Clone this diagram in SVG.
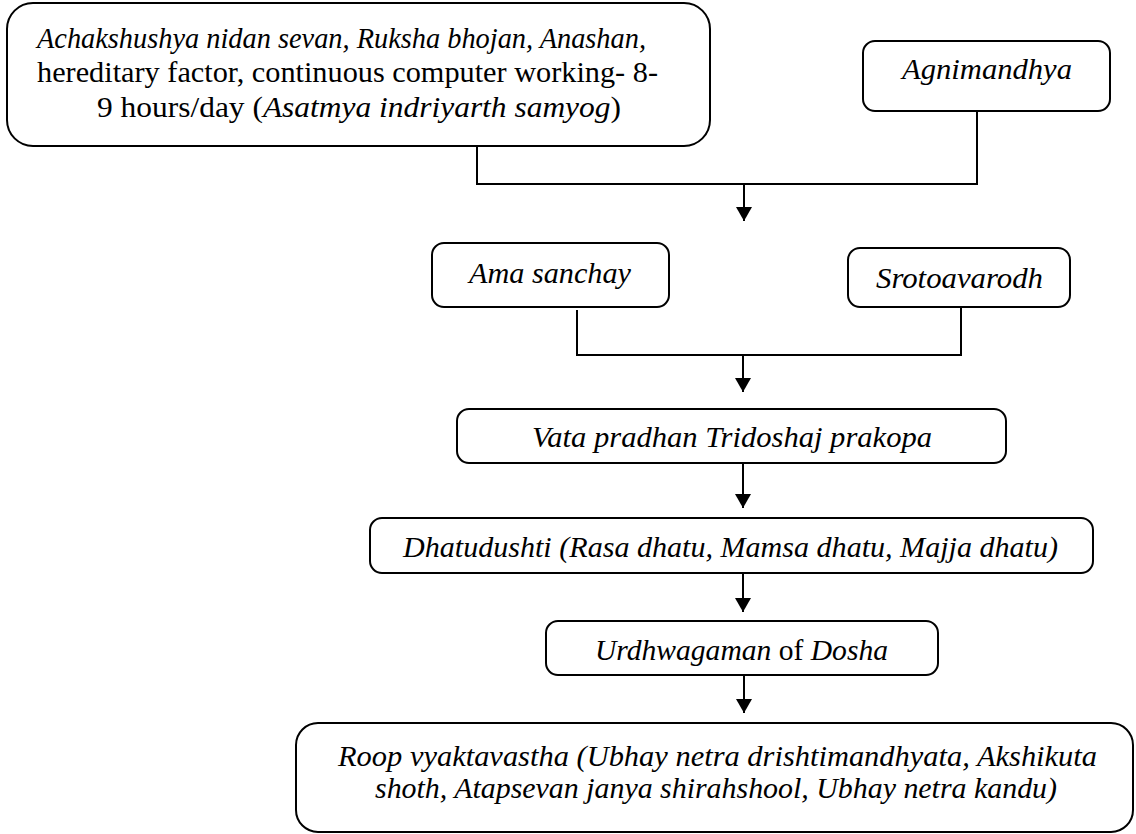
<svg xmlns="http://www.w3.org/2000/svg" width="1136" height="834" viewBox="0 0 1136 834">
<style>
  .box { fill: #ffffff; stroke: #000000; stroke-width: 2; }
  .t { font-family: "Liberation Serif", "DejaVu Serif", serif; font-size: 29px; fill: #000000; }
  .i { font-style: italic; }
  .n { font-style: normal; }
  .con { fill: none; stroke: #000000; stroke-width: 2; }
</style>
<defs>
  <marker id="arr" markerUnits="userSpaceOnUse" viewBox="0 0 14 16" markerWidth="14" markerHeight="16" refX="14" refY="8" orient="auto">
    <path d="M0,0 L14,8 L0,16 z" fill="#000000"/>
  </marker>
</defs>
<rect width="1136" height="834" fill="#ffffff"/>

<g id="connectors">
  <path class="con" d="M477,147 V184 H977 V111"/>
  <path class="con" d="M744,184 V221" marker-end="url(#arr)"/>
  <path class="con" d="M577,310 V355 H961 V307"/>
  <path class="con" d="M743,355 V392" marker-end="url(#arr)"/>
  <path class="con" d="M743,464 V508" marker-end="url(#arr)"/>
  <path class="con" d="M743,574 V612" marker-end="url(#arr)"/>
  <path class="con" d="M744,675 V713" marker-end="url(#arr)"/>
</g>

<g id="node-causes">
  <rect class="box" x="7" y="3" width="703" height="143" rx="26"/>
  <text class="t i" x="37" y="48" textLength="609" lengthAdjust="spacingAndGlyphs">Achakshushya nidan sevan, Ruksha bhojan, Anashan,</text>
  <text class="t" x="37" y="82" textLength="621" lengthAdjust="spacingAndGlyphs">hereditary factor, continuous computer working- 8-</text>
  <text class="t" x="97" y="117" textLength="524" lengthAdjust="spacingAndGlyphs">9 hours/day (<tspan class="i">Asatmya indriyarth samyog</tspan>)</text>
</g>

<g id="node-agnimandhya">
  <rect class="box" x="863" y="41" width="247" height="70" rx="12"/>
  <text class="t i" x="902" y="79" textLength="170" lengthAdjust="spacingAndGlyphs">Agnimandhya</text>
</g>

<g id="node-ama">
  <rect class="box" x="432" y="243" width="237" height="64" rx="12"/>
  <text class="t i" x="469" y="283" textLength="162" lengthAdjust="spacingAndGlyphs">Ama sanchay</text>
</g>

<g id="node-sroto">
  <rect class="box" x="848" y="248" width="222" height="59" rx="12"/>
  <text class="t i" x="876" y="288" textLength="167" lengthAdjust="spacingAndGlyphs">Srotoavarodh</text>
</g>

<g id="node-vata">
  <rect class="box" x="457" y="409" width="549" height="54" rx="12"/>
  <text class="t i" x="532" y="447" textLength="400" lengthAdjust="spacingAndGlyphs">Vata pradhan Tridoshaj prakopa</text>
</g>

<g id="node-dhatu">
  <rect class="box" x="370" y="518" width="723" height="55" rx="12"/>
  <text class="t i" x="403" y="557" textLength="655" lengthAdjust="spacingAndGlyphs">Dhatudushti (Rasa dhatu, Mamsa dhatu, Majja dhatu)</text>
</g>

<g id="node-urdhwa">
  <rect class="box" x="546" y="621" width="392" height="54" rx="12"/>
  <text class="t" x="595" y="660" textLength="293" lengthAdjust="spacingAndGlyphs"><tspan class="i">Urdhwagaman</tspan> of <tspan class="i">Dosha</tspan></text>
</g>

<g id="node-roop">
  <rect class="box" x="296" y="723" width="837" height="109" rx="22"/>
  <text class="t i" x="338" y="766" textLength="759" lengthAdjust="spacingAndGlyphs">Roop vyaktavastha (Ubhay netra drishtimandhyata, Akshikuta</text>
  <text class="t i" x="375" y="798" textLength="682" lengthAdjust="spacingAndGlyphs">shoth, Atapsevan janya shirahshool, Ubhay netra kandu)</text>
</g>
</svg>
